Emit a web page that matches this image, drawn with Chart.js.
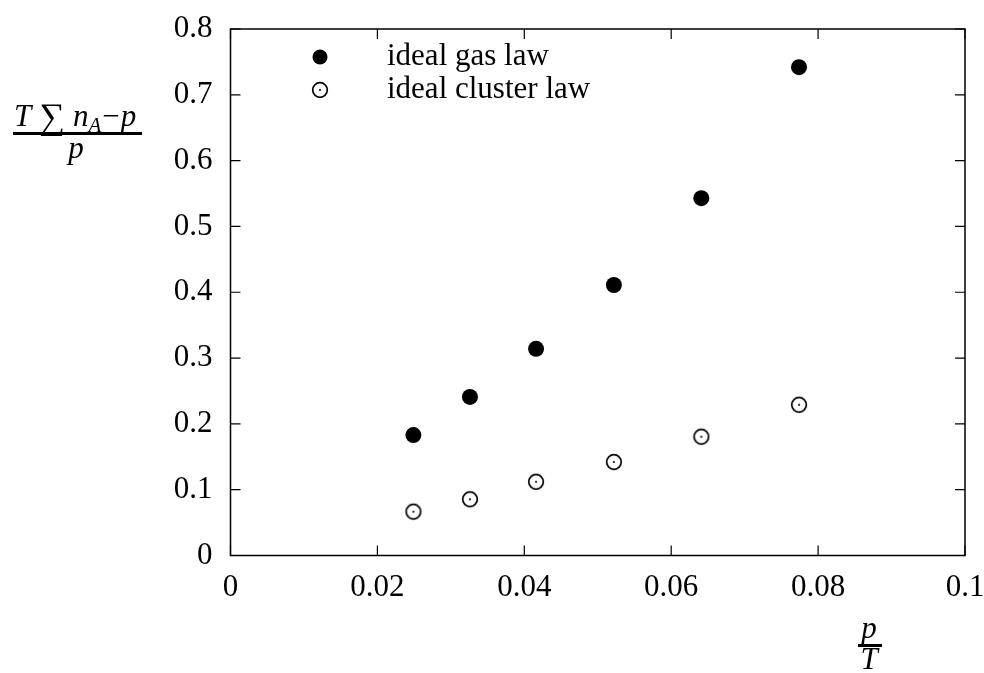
<!DOCTYPE html>
<html>
<head>
<meta charset="utf-8">
<script src="https://cdn.jsdelivr.net/npm/chart.js@4/dist/chart.umd.min.js"></script>
<style>
  html, body { margin: 0; padding: 0; background: #fff; }
  canvas { display: block; }
</style>
</head>
<body>
<canvas id="chart" width="984" height="673"></canvas>
<script>
// data
const pOverT = [0.0249, 0.0326, 0.0416, 0.0522, 0.0641, 0.0774];
const idealGas = [0.183, 0.241, 0.314, 0.411, 0.543, 0.742];
const idealCluster = [0.0666, 0.0854, 0.112, 0.142, 0.1805, 0.229];
const xTicks = [0, 0.02, 0.04, 0.06, 0.08, 0.1];
const yTicks = [0, 0.1, 0.2, 0.3, 0.4, 0.5, 0.6, 0.7, 0.8];
const seriesNames = ['ideal gas law', 'ideal cluster law'];

const FONT = 'Liberation Serif, Times New Roman, serif';

// open circle with a dot in the middle
function dottedCircle() {
  const c = document.createElement('canvas');
  c.width = 20; c.height = 20;
  const g = c.getContext('2d');
  g.strokeStyle = '#000';
  g.lineWidth = 1.7;
  g.beginPath();
  g.arc(10, 10, 7.3, 0, Math.PI * 2);
  g.stroke();
  g.fillStyle = '#000';
  g.beginPath();
  g.arc(10, 10, 1.1, 0, Math.PI * 2);
  g.fill();
  return c;
}
const openMark = dottedCircle();

const frame = {
  id: 'frame',
  afterDraw(chart) {
    const {ctx, chartArea: a, scales} = chart;
    ctx.save();
    ctx.strokeStyle = '#000';
    ctx.lineWidth = 1.5;
    ctx.strokeRect(a.left, a.top, a.right - a.left, a.bottom - a.top);
    ctx.lineWidth = 1.2;
    const tl = 10;
    ctx.beginPath();
    xTicks.forEach(v => {
      const x = scales.x.getPixelForValue(v);
      ctx.moveTo(x, a.bottom); ctx.lineTo(x, a.bottom - tl);
      ctx.moveTo(x, a.top); ctx.lineTo(x, a.top + tl);
    });
    yTicks.forEach(v => {
      const y = scales.y.getPixelForValue(v);
      ctx.moveTo(a.left, y); ctx.lineTo(a.left + tl, y);
      ctx.moveTo(a.right, y); ctx.lineTo(a.right - tl, y);
    });
    ctx.stroke();

    // legend
    ctx.fillStyle = '#000';
    ctx.font = '31px ' + FONT;
    ctx.textBaseline = 'middle';
    ctx.textAlign = 'left';
    ctx.beginPath();
    ctx.arc(320, 57, 7.5, 0, Math.PI * 2);
    ctx.fill();
    ctx.fillText(seriesNames[0], 387, 57);
    ctx.drawImage(openMark, 310, 80);
    ctx.fillText(seriesNames[1], 387, 90);

    // y axis title: (T sum n_A - p) / p
    ctx.textBaseline = 'alphabetic';
    let x = 14;
    const yb = 126;
    ctx.font = 'italic 31px ' + FONT;
    ctx.fillText('T', x, yb); x += ctx.measureText('T').width + 8;
    ctx.font = '36px ' + FONT;
    ctx.fillText('\u2211', x, yb + 2); x += ctx.measureText('\u2211').width + 8;
    ctx.font = 'italic 31px ' + FONT;
    ctx.fillText('n', x, yb); x += ctx.measureText('n').width;
    ctx.font = 'italic 21px ' + FONT;
    ctx.fillText('A', x, yb + 6); x += ctx.measureText('A').width + 1;
    ctx.font = '31px ' + FONT;
    ctx.fillText('\u2212', x, yb); x += ctx.measureText('\u2212').width + 1;
    ctx.font = 'italic 31px ' + FONT;
    ctx.fillText('p', x, yb);
    ctx.fillRect(13, 132, 129, 3);
    ctx.textAlign = 'center';
    ctx.fillText('p', 76, 158);

    // x axis title: p / T
    ctx.fillText('p', 869, 638);
    ctx.fillRect(858, 644, 24, 3);
    ctx.fillText('T', 869, 669);
    ctx.restore();
  }
};

new Chart(document.getElementById('chart'), {
  type: 'scatter',
  data: {
    datasets: [
      {
        label: seriesNames[0],
        data: pOverT.map((x, i) => ({x, y: idealGas[i]})),
        pointStyle: 'circle',
        pointRadius: 8,
        pointHoverRadius: 8,
        backgroundColor: '#000',
        borderColor: '#000',
        borderWidth: 0
      },
      {
        label: seriesNames[1],
        data: pOverT.map((x, i) => ({x, y: idealCluster[i]})),
        pointStyle: openMark,
        pointRadius: 8,
        pointHoverRadius: 8
      }
    ]
  },
  options: {
    responsive: false,
    animation: false,
    devicePixelRatio: 1,
    layout: {padding: {left: 0, top: 29, right: 19, bottom: 0}},
    plugins: {
      legend: {display: false},
      tooltip: {enabled: false}
    },
    scales: {
      x: {
        type: 'linear',
        min: 0, max: 0.1,
        afterBuildTicks: s => { s.ticks = xTicks.map(v => ({value: v})); },
        afterFit: s => { s.height = 117.5; s.paddingLeft = 0; s.paddingRight = 0; },
        grid: {display: false},
        border: {display: false},
        ticks: {
          color: '#000',
          font: {family: FONT, size: 31},
          padding: 6,
          maxRotation: 0,
          callback: v => String(v)
        }
      },
      y: {
        type: 'linear',
        min: 0, max: 0.8,
        afterBuildTicks: s => { s.ticks = yTicks.map(v => ({value: v})); },
        afterFit: s => { s.width = 230.5; s.paddingTop = 0; s.paddingBottom = 0; },
        grid: {display: false},
        border: {display: false},
        ticks: {
          color: '#000',
          font: {family: FONT, size: 31},
          padding: 10,
          callback: v => String(v)
        }
      }
    }
  },
  plugins: [frame]
});
</script>
</body>
</html>
